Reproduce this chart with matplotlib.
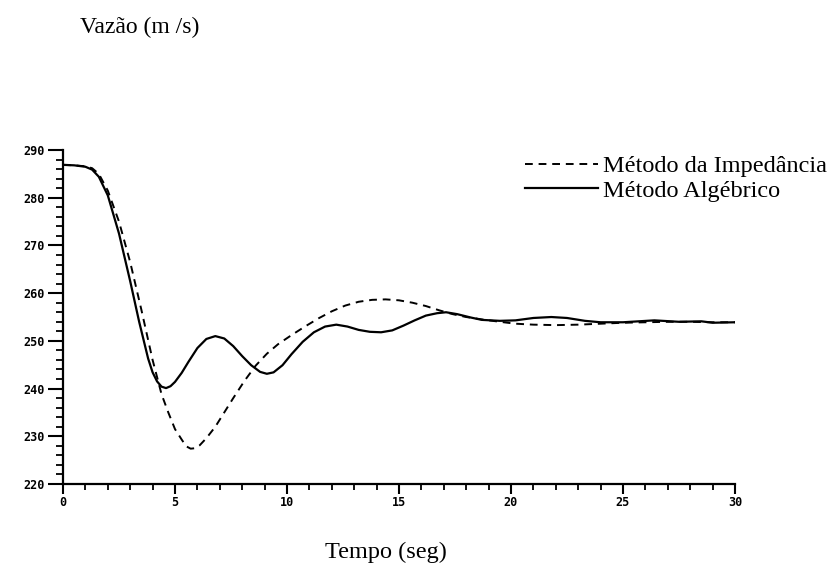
import matplotlib
matplotlib.use("Agg")
import matplotlib.pyplot as plt
from matplotlib.ticker import MultipleLocator

# Algebraic method (solid line)
t_alg = [0, 0.5, 1.0, 1.3, 1.6, 2.0, 2.5, 3.0, 3.4, 3.8, 4.0, 4.2, 4.4, 4.6,
         4.8, 5.0, 5.3, 5.6, 6.0, 6.4, 6.8, 7.2, 7.6, 8.0, 8.4, 8.8, 9.1,
         9.4, 9.8, 10.2, 10.7, 11.2, 11.7, 12.2, 12.7, 13.2, 13.7, 14.2,
         14.7, 15.2, 15.7, 16.2, 16.7, 17.1, 17.6, 18.2, 18.7, 19.5, 20.2,
         21.0, 21.8, 22.5, 23.3, 24.0, 25.0, 26.4, 27.5, 28.5, 29.0, 30.0]
q_alg = [286.9, 286.8, 286.5, 285.9, 284.4, 280.5, 272.5, 262.5, 254.0, 246.3,
         243.4, 241.5, 240.4, 240.1, 240.5, 241.4, 243.3, 245.6, 248.5, 250.4,
         251.0, 250.5, 248.9, 246.8, 244.9, 243.5, 243.1, 243.4, 244.9, 247.2,
         249.8, 251.8, 253.0, 253.4, 253.0, 252.3, 251.9, 251.8, 252.2, 253.2,
         254.3, 255.3, 255.8, 256.0, 255.6, 254.9, 254.4, 254.2, 254.3, 254.8,
         255.0, 254.8, 254.2, 253.9, 253.9, 254.3, 254.0, 254.1, 253.8, 253.9]

# Impedance method (dashed line)
t_imp = [0, 0.5, 1.0, 1.3, 1.6, 2.0, 2.5, 3.0, 3.5, 4.0, 4.4, 4.7, 5.0, 5.3,
         5.5, 5.7, 5.9, 6.1, 6.4, 6.8, 7.2, 7.6, 8.1, 8.6, 9.1, 9.6, 10.2,
         10.8, 11.4, 12.0, 12.6, 13.2, 13.8, 14.4, 15.0, 15.6, 16.2, 16.8,
         17.4, 18.0, 18.7, 19.5, 20.2, 21.0, 22.0, 23.0, 24.0, 25.0, 26.0,
         27.0, 28.0, 29.0, 30.0]
q_imp = [286.9, 286.8, 286.6, 286.2, 285.0, 281.5, 275.0, 266.5, 256.5, 246.0,
         238.8, 235.0, 231.5, 229.3, 227.9, 227.4, 227.5, 228.1, 229.6, 232.0,
         235.0, 238.0, 241.6, 244.8, 247.3, 249.3, 251.2, 253.0, 254.7, 256.2,
         257.4, 258.2, 258.6, 258.7, 258.5, 258.0, 257.3, 256.4, 255.6, 255.0,
         254.5, 254.0, 253.6, 253.4, 253.3, 253.4, 253.6, 253.8, 253.9, 254.0,
         254.0, 253.9, 253.9]

x_ticks = [0, 5, 10, 15, 20, 25, 30]
y_ticks = [220, 230, 240, 250, 260, 270, 280, 290]

serif = "Liberation Serif"

fig = plt.figure(figsize=(8.4, 5.65), dpi=100)
ax = fig.add_axes([0.075, 0.1434, 0.80, 0.591])

ax.plot(t_imp, q_imp, color="black", lw=1.4, dashes=(4, 3),
        label="Método da Impedância")
ax.plot(t_alg, q_alg, color="black", lw=1.6, label="Método Algébrico")

ax.set_xlim(0, 30)
ax.set_ylim(220, 290)
ax.set_xticks(x_ticks)
ax.set_yticks(y_ticks)
ax.xaxis.set_minor_locator(MultipleLocator(1))
ax.yaxis.set_minor_locator(MultipleLocator(2))
ax.spines["top"].set_visible(False)
ax.spines["right"].set_visible(False)
ax.spines["left"].set_linewidth(1.6)
ax.spines["bottom"].set_linewidth(1.6)
ax.tick_params(axis="y", which="major", direction="out", length=11, width=1.5, pad=2)
ax.tick_params(axis="y", which="minor", direction="out", length=5, width=1.3)
ax.tick_params(axis="x", which="major", direction="out", length=7, width=1.5, pad=2)
ax.tick_params(axis="x", which="minor", direction="out", length=4, width=1.3)
for lab in ax.get_xticklabels() + ax.get_yticklabels():
    lab.set_fontfamily("DejaVu Sans Mono")
    lab.set_fontweight("bold")
    lab.set_fontsize(8.5)

ax.legend(loc="upper left", bbox_to_anchor=(0.655, 1.05), frameon=False,
          handlelength=3.0, handletextpad=0.2, labelspacing=0.1,
          prop={"family": serif, "size": 17.5})

fig.text(0.095, 0.952, "Vazão (m /s)", family=serif, fontsize=17, va="center")
fig.text(0.46, 0.023, "Tempo (seg)", family=serif, fontsize=17.5, va="center",
         ha="center")

fig.savefig("out.png", dpi=100, facecolor="white")
